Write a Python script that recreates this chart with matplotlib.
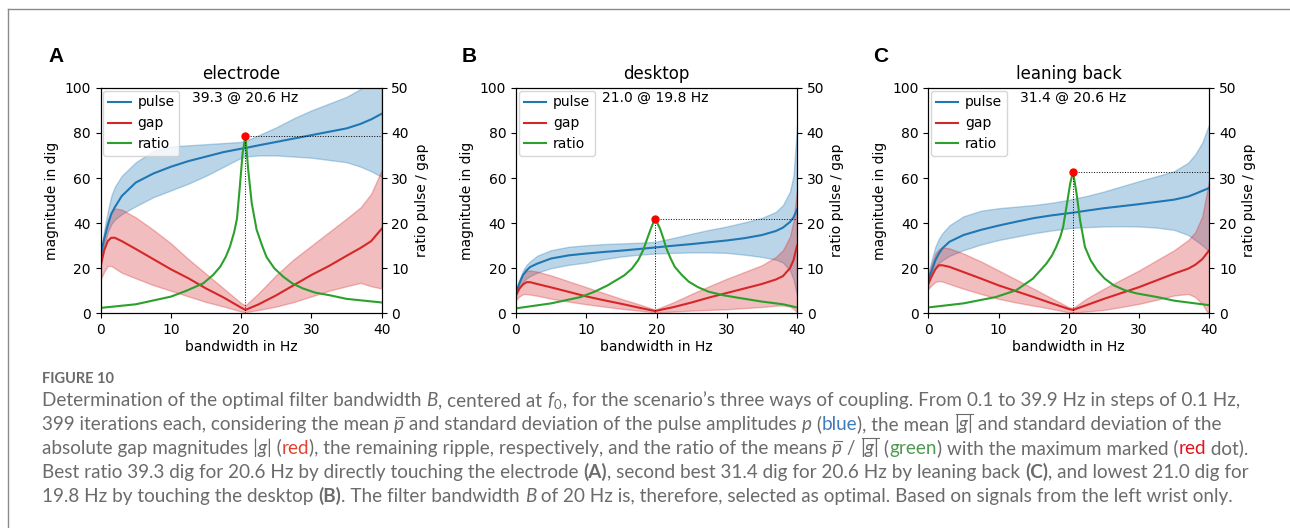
import matplotlib
matplotlib.use("Agg")
import matplotlib.pyplot as plt
from matplotlib.lines import Line2D

# ---- panel A: electrode ----
xa = [0, 0.5, 1, 1.5, 2, 3, 5, 7.5, 10, 12.5, 15, 17.5, 20, 20.6, 22.5, 25, 27.5, 30, 32.5, 35, 37, 38.5, 40]
pulse_a = [26, 33, 39, 44, 47, 52, 58, 62, 65, 67.5, 69.5, 71.5, 73, 73.3, 74.5, 76, 77.5, 79, 80.5, 82, 84, 86, 88.5]
pulse_a_hi = [28, 37, 45, 52, 56, 61, 67, 72, 74, 74.5, 75, 75.5, 76, 76.5, 79, 82.5, 86.5, 90, 93, 96, 99.5, 103, 106]
pulse_a_lo = [24, 30, 36, 39.5, 41.5, 44, 47.5, 51.5, 54.5, 57.5, 61, 65, 69, 69.5, 70, 70, 69.5, 69, 68, 67, 65, 63, 60.5]
gap_a = [21, 28, 32, 33.5, 33.5, 32, 28.5, 24, 19.5, 15.5, 11, 7, 2.5, 1.5, 4, 8, 12.5, 17, 21, 25.5, 29, 32, 37.5]
gap_a_hi = [24, 34, 41, 45, 46.5, 46, 42.5, 37, 31, 24, 17.5, 11, 4.5, 3.5, 9, 17, 24, 30, 36, 42, 47, 53, 63.5]
gap_a_lo = [15, 18.5, 21, 21, 20, 18, 15.5, 12.5, 10, 7.5, 5, 3, 0.8, 0.5, 1.5, 3, 5, 7.5, 10, 12, 13.5, 12, 11]
xr_a = [0, 5, 10, 12.2, 14.6, 16, 17, 17.8, 18.4, 19, 19.4, 19.8, 20.2, 20.6, 21.0, 21.5, 22.2, 23, 23.6,
        24.7, 26, 27.3, 28.8, 30.5, 32.6, 35, 40]
ratio_a = [1.2, 2.0, 3.7, 5.0, 6.65, 8.5, 10.3, 12.5, 14.8, 18, 21, 28, 35.5, 39.3, 31.8, 24.4, 18.5, 14.9, 12.5,
           10, 8.1, 6.6, 5.5, 4.6, 4.0, 3.2, 2.4]

# ---- panel B: desktop ----
xb = [0, 0.5, 1, 1.5, 2, 3, 5, 7.5, 10, 12.5, 15, 17.5, 19.8, 22.5, 25, 27.5, 30, 32.5, 35, 37, 38, 39, 39.5, 40]
pulse_b = [9, 13.5, 17, 19, 20.5, 22, 24.3, 25.7, 26.5, 27.2, 27.8, 28.5, 29.2, 30, 30.7, 31.5, 32.3, 33.3, 34.7, 36.5, 38, 40.5, 42.5, 46]
pulse_b_hi = [10, 15, 19, 21.5, 23, 25.5, 28, 29.5, 30.2, 30.7, 31, 31.3, 31.7, 33.5, 35.3, 37, 38.5, 40.3, 42.3, 45, 48, 54, 61, 83]
pulse_b_lo = [8, 11.5, 14, 15.5, 16.5, 18, 20, 21.5, 22.5, 24, 25.2, 26, 26.5, 26.8, 27, 27, 26.8, 26, 25, 23.8, 22.5, 19, 15, 8]
gap_b = [8, 11, 12.8, 13.8, 13.8, 13, 11.5, 9.5, 7.5, 5.8, 4.2, 2.5, 1.0, 2.8, 4.8, 7, 9, 11, 13, 15, 16.5, 20, 23.5, 30]
gap_b_hi = [9, 14, 17.5, 18.8, 19, 18.5, 16.8, 14.2, 11.6, 9, 6.4, 4, 1.6, 5, 8.6, 12, 15.3, 18.3, 21.3, 25, 28, 34, 41, 55]
gap_b_lo = [6, 7.5, 8.5, 8.5, 8.3, 7.8, 6.5, 5.2, 4, 3, 2, 1.2, 0.4, 0.8, 1.2, 1.5, 1.8, 2.3, 2.8, 3.4, 3.5, 3, 2, 0.5]
xr_b = [0, 5, 9.2, 11.2, 13.05, 15.4, 16.5, 17.4, 18.1, 18.6, 19.3, 19.8, 20.5, 21.0, 21.4, 22, 22.6, 23.6,
        24.6, 25.9, 27.4, 29.5, 31.8, 35, 38, 40]
ratio_b = [1.1, 2.2, 3.6, 4.8, 6.2, 8.4, 9.9, 11.8, 14, 16.2, 19.2, 21.0, 18.8, 16.5, 14.4, 12.2, 10.3, 8.5,
           7.0, 5.8, 4.8, 4.0, 3.4, 2.6, 2.0, 1.3]

# ---- panel C: leaning back ----
xc = [0, 0.5, 1, 1.5, 2, 3, 5, 7.5, 10, 12.5, 15, 17.5, 20, 20.6, 22.5, 25, 27.5, 30, 32.5, 35, 37, 38, 39, 40]
pulse_c = [15, 19, 23.5, 26.5, 28.8, 31.7, 34.7, 37, 38.9, 40.6, 42.2, 43.4, 44.4, 44.6, 45.5, 46.6, 47.5, 48.4, 49.4, 50.4, 51.8, 53, 54.3, 55.6]
pulse_c_hi = [17.5, 24, 29.5, 33, 35.5, 39, 43, 45.5, 46.6, 47.3, 48, 49, 50.3, 50.8, 52, 54, 56.3, 58.6, 60.8, 63, 66.8, 70.5, 75.7, 84]
pulse_c_lo = [14, 17.5, 20.6, 22.3, 23.5, 25.5, 28, 30.5, 32.5, 34, 35.5, 36.7, 37.7, 37.9, 38.2, 38.5, 38.6, 38.5, 38, 37, 34.7, 32.5, 30.2, 27.3]
gap_c = [13, 16.5, 19.5, 21.3, 21.3, 20.6, 18.3, 15.4, 12.4, 9.8, 7.2, 4.5, 1.9, 1.5, 3.6, 6.4, 9, 11.6, 14.6, 17.6, 19.8, 21.5, 24, 28]
gap_c_hi = [16.8, 22, 26.5, 28.5, 29.2, 28.8, 26.5, 23, 19, 15, 10.9, 6.8, 2.7, 2.3, 6.5, 10.9, 15, 19, 23.5, 28, 32.5, 36, 43, 59.3]
gap_c_lo = [10.9, 12.5, 13.9, 14.3, 14.1, 13, 10.9, 8.6, 6.4, 4.8, 3.4, 2, 0.4, 0.3, 0.8, 1.5, 2.8, 4.2, 6, 7.9, 8.6, 7.2, 4.2, -1]
xr_c = [0, 5, 9.6, 12.5, 14.9, 16.8, 17.6, 18.2, 18.8, 19.2, 19.75, 20.2, 20.6, 21.1, 21.6, 22.3, 23.1, 24.0,
        25.1, 26.4, 28, 29.7, 32.6, 35, 40]
ratio_c = [1.3, 2.2, 3.6, 5.1, 7.7, 11.0, 12.8, 14.7, 17, 19.2, 24.4, 28.8, 31.4, 26.6, 20.7, 14.7, 11.8, 9.6,
           7.7, 6.2, 5.1, 4.4, 3.6, 2.8, 1.8]

letters = ["A", "B", "C"]
titles = ["electrode", "desktop", "leaning back"]
peak_f = [20.6, 19.8, 20.6]
peak_r = [39.3, 21.0, 31.4]

panels = [
    (xa, pulse_a, pulse_a_lo, pulse_a_hi, gap_a, gap_a_lo, gap_a_hi, xr_a, ratio_a),
    (xb, pulse_b, pulse_b_lo, pulse_b_hi, gap_b, gap_b_lo, gap_b_hi, xr_b, ratio_b),
    (xc, pulse_c, pulse_c_lo, pulse_c_hi, gap_c, gap_c_lo, gap_c_hi, xr_c, ratio_c),
]

W, H = 1290, 528
fig = plt.figure(figsize=(W / 100, H / 100), dpi=100)

lefts = [100.7, 516, 928.3]
letter_x = [48, 462, 873]
ax_w, ax_h = 281, 225.5
ax_top = 87.8

for i, (x, p, plo, phi, g, glo, ghi, xr, r) in enumerate(panels):
    ax = fig.add_axes([lefts[i] / W, 1 - (ax_top + ax_h) / H, ax_w / W, ax_h / H])
    ax.fill_between(x, plo, phi, color="C0", alpha=0.3)
    l1, = ax.plot(x, p, color="C0", lw=1.5, label="pulse")
    ax.fill_between(x, glo, ghi, color="C3", alpha=0.3)
    l2, = ax.plot(x, g, color="C3", lw=1.5, label="gap")
    ax.set_xlim(0, 40)
    ax.set_ylim(0, 100)
    ax.set_xticks([0, 10, 20, 30, 40])
    ax.set_xlabel("bandwidth in Hz", fontsize=10, labelpad=2)
    ax.set_ylabel("magnitude in dig", fontsize=10)
    ax.set_title(titles[i], fontsize=12)

    ax2 = ax.twinx()
    l3, = ax2.plot(xr, r, color="C2", lw=1.5, label="ratio")
    ax2.set_ylim(0, 50)
    ax2.set_ylabel("ratio pulse / gap", fontsize=10)
    ax2.plot([peak_f[i], peak_f[i]], [0, peak_r[i]], color="k", ls=":", lw=0.7)
    ax2.plot([peak_f[i], 40], [peak_r[i], peak_r[i]], color="k", ls=":", lw=0.7)
    ax2.plot([peak_f[i]], [peak_r[i]], "o", color="red", ms=5, zorder=5)
    ax2.text(peak_f[i], 0.955, f"{peak_r[i]:.1f} @ {peak_f[i]:.1f} Hz",
             transform=ax2.get_xaxis_transform(), ha="center", va="center", fontsize=10)

    ax.legend([l1, l2, l3], ["pulse", "gap", "ratio"], loc="upper left", fontsize=10,
              handlelength=1.6, handletextpad=0.5, borderpad=0.35, borderaxespad=0.2)

    fig.text(letter_x[i] / W, 1 - 56.5 / H, letters[i], fontsize=15, fontweight="bold",
             family="Liberation Sans", ha="left", va="center")

# frame lines of the figure box
fig.add_artist(Line2D([8 / W, 1], [1 - 9 / H, 1 - 9 / H], color="#8a8a8a", lw=1))
fig.add_artist(Line2D([8 / W, 8 / W], [0, 1 - 9 / H], color="#8a8a8a", lw=1))

# ---- caption ----
GREY = "#6b6b6b"
BLUE = "#3f7cbf"
RED = "#e0432f"
RED2 = "#e4141f"
GREEN = "#4e9a52"
CAP_FONT = "Lato"
CAP_SIZE = 13.6

plt.rcParams["mathtext.fontset"] = "custom"
plt.rcParams["mathtext.rm"] = "Lato"
plt.rcParams["mathtext.it"] = "Lato:italic"

N, I, BD = "normal", "italic", "bold"
OV = "over"   # italic text with a bar drawn over it

caption = [
    [("Determination of the optimal filter bandwidth ", GREY, N, N),
     ("B", GREY, N, I),
     (", centered at ", GREY, N, N),
     ("$f_0$", GREY, N, N),
     (", for the scenario\u2019s three ways of coupling. From 0.1 to 39.9 Hz in steps of 0.1 Hz,", GREY, N, N)],
    [("399 iterations each, considering the mean ", GREY, N, N),
     ("p", GREY, OV, I),
     (" and standard deviation of the pulse amplitudes ", GREY, N, N),
     ("p", GREY, N, I),
     (" (", GREY, N, N),
     ("blue", BLUE, N, N),
     ("), the mean ", GREY, N, N),
     ("|g|", GREY, OV, I),
     (" and standard deviation of the", GREY, N, N)],
    [("absolute gap magnitudes |", GREY, N, N),
     ("g", GREY, N, I),
     ("| (", GREY, N, N),
     ("red", RED, N, N),
     ("), the remaining ripple, respectively, and the ratio of the means ", GREY, N, N),
     ("p", GREY, OV, I),
     (" / ", GREY, N, N),
     ("|g|", GREY, OV, I),
     (" (", GREY, N, N),
     ("green", GREEN, N, N),
     (") with the maximum marked (", GREY, N, N),
     ("red", RED2, N, N),
     (" dot).", GREY, N, N)],
    [("Best ratio 39.3 dig for 20.6 Hz by directly touching the electrode ", GREY, N, N),
     ("(A)", GREY, BD, N),
     (", second best 31.4 dig for 20.6 Hz by leaning back ", GREY, N, N),
     ("(C)", GREY, BD, N),
     (", and lowest 21.0 dig for", GREY, N, N)],
    [("19.8 Hz by touching the desktop ", GREY, N, N),
     ("(B)", GREY, BD, N),
     (". The filter bandwidth ", GREY, N, N),
     ("B", GREY, N, I),
     (" of 20 Hz is, therefore, selected as optimal. Based on signals from the left wrist only.", GREY, N, N)],
]
baselines = [406, 430, 454, 478, 502]

renderer = fig.canvas.get_renderer()


def text_kw(weight, style):
    if weight == OV:
        weight = N
    return dict(fontsize=CAP_SIZE, family=CAP_FONT, weight=weight, style=style)


def text_width(s, weight, style):
    # pad with x on both sides so that spaces at the ends are counted
    a = fig.text(0, 0, "x" + s + "x", **text_kw(weight, style))
    b = fig.text(0, 0, "xx", **text_kw(weight, style))
    w = a.get_window_extent(renderer).width - b.get_window_extent(renderer).width
    a.remove()
    b.remove()
    return w


fig.text(42 / W, 1 - 383 / H, "FIGURE 10", fontsize=10.5, family=CAP_FONT, weight="bold",
         color=GREY, va="baseline")

for line, yb in zip(caption, baselines):
    xpos = 42
    for s, col, wt, st in line:
        fig.text(xpos / W, 1 - yb / H, s, color=col, va="baseline", ha="left", **text_kw(wt, st))
        w = text_width(s, wt, st)
        if wt == OV:
            ybar = yb - (16 if "|" in s else 13)
            fig.add_artist(Line2D([(xpos + 1.5) / W, (xpos + w) / W], [1 - ybar / H, 1 - ybar / H],
                                  color=col, lw=0.8))
        xpos += w

fig.savefig("out.png", dpi=100)
